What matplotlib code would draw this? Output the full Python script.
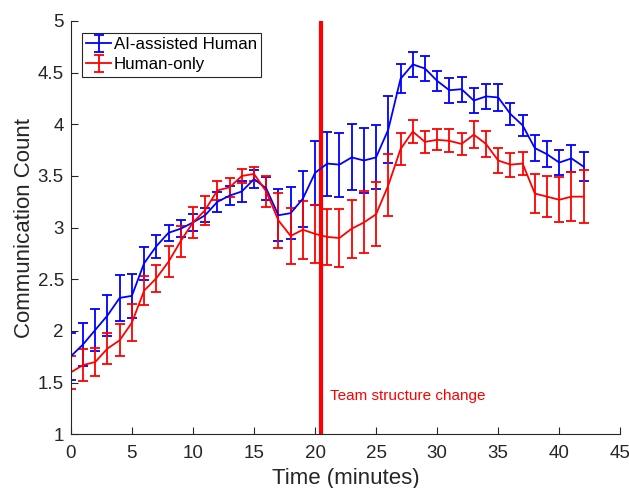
import numpy as np
import matplotlib
matplotlib.use("Agg")
import matplotlib.pyplot as plt

# date (minute 0..42)
minute = list(range(0, 43))

ai_media = [1.755, 1.87, 2.01, 2.15, 2.32, 2.34, 2.655, 2.82, 2.95, 2.99, 3.05, 3.12, 3.25, 3.31, 3.35,
            3.47, 3.38, 3.12, 3.14, 3.28, 3.53, 3.62, 3.61, 3.68, 3.65, 3.68, 3.95, 4.44, 4.58, 4.54,
            4.42, 4.33, 4.34, 4.23, 4.27, 4.26, 4.10, 3.99, 3.77, 3.71, 3.63, 3.67, 3.59]
ai_eroare = [0.23, 0.21, 0.2, 0.2, 0.22, 0.21, 0.16, 0.11, 0.08, 0.085, 0.08, 0.07, 0.095, 0.095, 0.105,
             0.09, 0.115, 0.25, 0.25, 0.27, 0.31, 0.31, 0.31, 0.32, 0.31, 0.31, 0.32, 0.14, 0.12, 0.12,
             0.1, 0.12, 0.12, 0.125, 0.125, 0.13, 0.11, 0.1, 0.125, 0.125, 0.125, 0.13, 0.14]

om_media = [1.60, 1.67, 1.70, 1.83, 1.91, 2.08, 2.39, 2.51, 2.67, 2.87, 3.05, 3.17, 3.36, 3.39, 3.50,
            3.52, 3.35, 3.07, 2.92, 2.98, 2.94, 2.91, 2.90, 2.99, 3.05, 3.13, 3.41, 3.76, 3.93, 3.83,
            3.85, 3.84, 3.81, 3.90, 3.81, 3.65, 3.61, 3.62, 3.33, 3.30, 3.27, 3.30, 3.30]
om_eroare = [0.16, 0.155, 0.14, 0.15, 0.155, 0.18, 0.14, 0.13, 0.15, 0.15, 0.15, 0.14, 0.095, 0.09, 0.07,
             0.065, 0.15, 0.265, 0.27, 0.28, 0.28, 0.27, 0.28, 0.28, 0.3, 0.31, 0.3, 0.155, 0.115, 0.11,
             0.1, 0.11, 0.11, 0.13, 0.13, 0.12, 0.115, 0.115, 0.19, 0.2, 0.22, 0.235, 0.255]

schimbare = 20.5   # momentul schimbarii structurii echipei

plt.rcParams['font.family'] = ['Liberation Sans', 'DejaVu Sans']
gri = '#262626'

fig = plt.figure(figsize=(6.29, 4.88), dpi=100)
ax = fig.add_axes([0.1126, 0.110, 0.8736, 0.847])

ax.errorbar(minute, ai_media, yerr=ai_eroare, color='blue', linewidth=1.3,
            elinewidth=1.3, capsize=3.5, capthick=1.3, label='AI-assisted Human')
ax.errorbar(minute, om_media, yerr=om_eroare, color='red', linewidth=1.3,
            elinewidth=1.3, capsize=3.5, capthick=1.3, label='Human-only')

ax.axvline(schimbare, color='red', linewidth=3)
ax.text(schimbare + 0.7, 1.37, 'Team structure change', color='red', fontsize=11,
        ha='left', va='center')

ax.set_xlim(0, 45)
ax.set_ylim(1, 5)
ax.set_xticks(np.arange(0, 46, 5))
ax.set_yticks(np.arange(1, 5.01, 0.5))
ax.set_yticklabels(['1', '1.5', '2', '2.5', '3', '3.5', '4', '4.5', '5'])

# stil tip MATLAB, fara cutie
ax.spines['top'].set_visible(False)
ax.spines['right'].set_visible(False)
ax.spines['left'].set_color(gri)
ax.spines['bottom'].set_color(gri)
ax.tick_params(direction='in', length=5, width=0.8, colors=gri, labelsize=13.5)
ax.tick_params(axis='y', pad=5)
ax.tick_params(axis='x', pad=8)

ax.set_xlabel('Time (minutes)', fontsize=16, color=gri, labelpad=4)
ax.set_ylabel('Communication Count', fontsize=16, color=gri, labelpad=2)

leg = ax.legend(loc='upper left', bbox_to_anchor=(0.02, 0.971), borderaxespad=0,
                fontsize=12.2, fancybox=False, framealpha=1, edgecolor=gri,
                handlelength=1.5, handletextpad=0.15, labelspacing=0.3, borderpad=0.25)
leg.get_frame().set_linewidth(0.8)

fig.savefig('out.png', dpi=100)
